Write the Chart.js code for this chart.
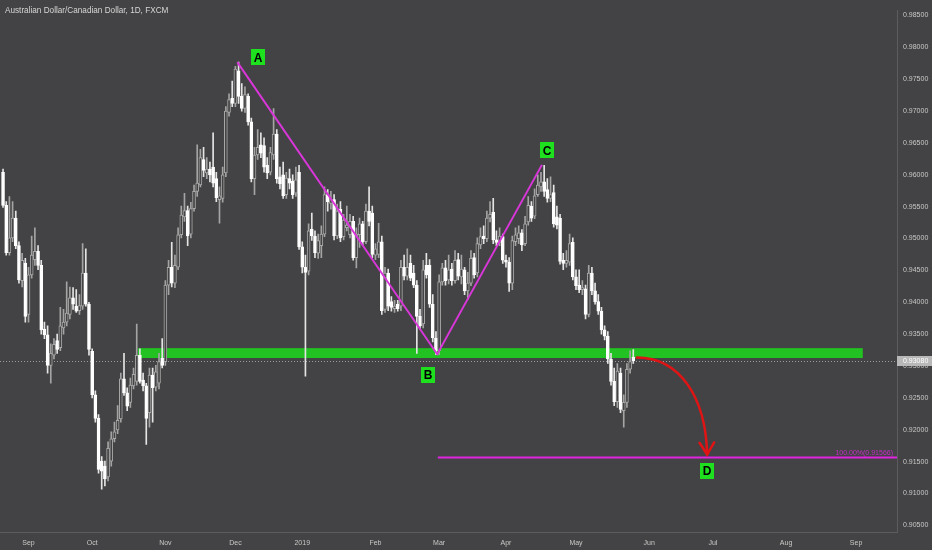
<!DOCTYPE html>
<html>
<head>
<meta charset="utf-8">
<title>AUDCAD 1D</title>
<script src="https://cdn.jsdelivr.net/npm/chart.js@4.4.1/dist/chart.umd.min.js"></script>
<style>
html, body { margin: 0; padding: 0; background: #434345; }
#wrap { width: 932px; height: 550px; }
</style>
</head>
<body>
<div id="wrap"><canvas id="chart" width="932" height="550"></canvas></div>
<script>
// daily candles, Aug 22 2018 .. May 24 2019 (index = trading day)
var opens = [
  0.9604,0.9552,0.9478,0.9501,0.9532,0.9489,0.9434,0.9461,0.9381,0.9443,
  0.9467,0.9480,0.9458,0.9358,0.9349,0.9301,0.9317,0.9340,0.9329,0.9360,
  0.9369,0.9381,0.9407,0.9394,0.9387,0.9394,0.9446,0.9397,0.9323,0.9255,
  0.9218,0.9151,0.9143,0.9126,0.9151,0.9186,0.9200,0.9217,0.9280,0.9258,
  0.9243,0.9269,0.9276,0.9317,0.9278,0.9269,0.9227,0.9286,0.9267,0.9273,
  0.9312,0.9307,0.9427,0.9455,0.9430,0.9455,0.9506,0.9534,0.9544,0.9507,
  0.9547,0.9574,0.9584,0.9624,0.9603,0.9609,0.9612,0.9594,0.9561,0.9563,
  0.9603,0.9698,0.9720,0.9712,0.9763,0.9723,0.9704,0.9723,0.9683,0.9594,
  0.9631,0.9647,0.9646,0.9615,0.9604,0.9631,0.9664,0.9597,0.9600,0.9569,
  0.9594,0.9590,0.9571,0.9604,0.9487,0.9455,0.9449,0.9515,0.9504,0.9477,
  0.9489,0.9507,0.9569,0.9555,0.9561,0.9504,0.9546,0.9503,0.9517,0.9506,
  0.9527,0.9470,0.9506,0.9523,0.9495,0.9543,0.9540,0.9474,0.9475,0.9495,
  0.9389,0.9446,0.9401,0.9390,0.9397,0.9394,0.9455,0.9441,0.9461,0.9446,
  0.9427,0.9378,0.9366,0.9458,0.9458,0.9397,0.9344,0.9324,0.9432,0.9454,
  0.9435,0.9452,0.9434,0.9467,0.9440,0.9451,0.9418,0.9430,0.9470,0.9446,
  0.9490,0.9504,0.9500,0.9532,0.9541,0.9498,0.9494,0.9503,0.9466,0.9463,
  0.9430,0.9495,0.9500,0.9509,0.9492,0.9526,0.9551,0.9535,0.9569,0.9581,
  0.9589,0.9577,0.9563,0.9572,0.9534,0.9532,0.9466,0.9461,0.9463,0.9494,
  0.9440,0.9427,0.9420,0.9421,0.9381,0.9446,0.9418,0.9401,0.9386,0.9357,
  0.9347,0.9311,0.9276,0.9244,0.9289,0.9230,0.9243,0.9295,0.9314
];
var highs = [
  0.9609,0.9558,0.9566,0.9558,0.9543,0.9495,0.9477,0.9469,0.9455,0.9504,
  0.9517,0.9489,0.9466,0.9369,0.9363,0.9335,0.9343,0.9350,0.9392,0.9389,
  0.9432,0.9424,0.9423,0.9420,0.9412,0.9492,0.9484,0.9400,0.9327,0.9261,
  0.9224,0.9158,0.9151,0.9181,0.9197,0.9212,0.9238,0.9289,0.9320,0.9266,
  0.9281,0.9297,0.9366,0.9327,0.9289,0.9273,0.9297,0.9297,0.9301,0.9320,
  0.9343,0.9434,0.9466,0.9494,0.9474,0.9517,0.9551,0.9571,0.9551,0.9557,
  0.9584,0.9647,0.9640,0.9643,0.9627,0.9620,0.9666,0.9604,0.9581,0.9612,
  0.9707,0.9727,0.9747,0.9770,0.9777,0.9743,0.9738,0.9727,0.9689,0.9643,
  0.9671,0.9666,0.9658,0.9627,0.9643,0.9704,0.9671,0.9612,0.9620,0.9604,
  0.9609,0.9600,0.9612,0.9615,0.9495,0.9474,0.9523,0.9540,0.9512,0.9507,
  0.9520,0.9581,0.9577,0.9574,0.9569,0.9554,0.9558,0.9538,0.9551,0.9538,
  0.9535,0.9517,0.9532,0.9527,0.9554,0.9581,0.9551,0.9492,0.9524,0.9504,
  0.9455,0.9452,0.9409,0.9403,0.9403,0.9466,0.9474,0.9484,0.9474,0.9458,
  0.9434,0.9389,0.9466,0.9477,0.9467,0.9412,0.9354,0.9443,0.9461,0.9466,
  0.9474,0.9461,0.9481,0.9477,0.9474,0.9455,0.9447,0.9481,0.9477,0.9501,
  0.9517,0.9520,0.9543,0.9558,0.9563,0.9512,0.9517,0.9507,0.9474,0.9470,
  0.9504,0.9517,0.9520,0.9514,0.9535,0.9566,0.9558,0.9578,0.9600,0.9604,
  0.9615,0.9594,0.9597,0.9584,0.9551,0.9538,0.9477,0.9481,0.9507,0.9501,
  0.9451,0.9451,0.9434,0.9427,0.9458,0.9455,0.9430,0.9412,0.9392,0.9363,
  0.9354,0.9320,0.9297,0.9304,0.9297,0.9255,0.9304,0.9324,0.9326
];
var lows = [
  0.9549,0.9474,0.9474,0.9495,0.9484,0.9430,0.9424,0.9369,0.9369,0.9438,
  0.9458,0.9451,0.9350,0.9343,0.9289,0.9273,0.9311,0.9320,0.9324,0.9350,
  0.9363,0.9374,0.9389,0.9384,0.9381,0.9389,0.9394,0.9317,0.9250,0.9212,
  0.9132,0.9107,0.9112,0.9120,0.9143,0.9181,0.9194,0.9212,0.9254,0.9230,
  0.9235,0.9264,0.9270,0.9273,0.9261,0.9177,0.9204,0.9212,0.9261,0.9264,
  0.9297,0.9301,0.9412,0.9424,0.9423,0.9451,0.9501,0.9527,0.9489,0.9501,
  0.9543,0.9566,0.9581,0.9597,0.9594,0.9589,0.9581,0.9558,0.9524,0.9557,
  0.9597,0.9692,0.9707,0.9707,0.9712,0.9700,0.9698,0.9678,0.9589,0.9569,
  0.9624,0.9627,0.9604,0.9594,0.9600,0.9624,0.9587,0.9578,0.9563,0.9563,
  0.9578,0.9563,0.9566,0.9483,0.9446,0.9284,0.9443,0.9497,0.9470,0.9469,
  0.9470,0.9503,0.9543,0.9546,0.9498,0.9500,0.9495,0.9498,0.9512,0.9501,
  0.9466,0.9454,0.9486,0.9489,0.9492,0.9520,0.9470,0.9467,0.9470,0.9381,
  0.9384,0.9387,0.9386,0.9384,0.9386,0.9387,0.9435,0.9435,0.9434,0.9423,
  0.9320,0.9357,0.9360,0.9438,0.9392,0.9338,0.9318,0.9318,0.9427,0.9427,
  0.9429,0.9427,0.9430,0.9435,0.9429,0.9412,0.9404,0.9426,0.9438,0.9440,
  0.9484,0.9492,0.9495,0.9526,0.9492,0.9489,0.9489,0.9461,0.9455,0.9417,
  0.9420,0.9489,0.9492,0.9481,0.9489,0.9521,0.9527,0.9531,0.9566,0.9574,
  0.9566,0.9557,0.9558,0.9518,0.9515,0.9460,0.9451,0.9455,0.9458,0.9435,
  0.9420,0.9415,0.9412,0.9374,0.9377,0.9412,0.9397,0.9381,0.9350,0.9341,
  0.9304,0.9270,0.9238,0.9235,0.9227,0.9204,0.9235,0.9289,0.9304
];
var closes = [
  0.9552,0.9478,0.9501,0.9532,0.9489,0.9435,0.9466,0.9378,0.9443,0.9474,
  0.9480,0.9458,0.9357,0.9349,0.9301,0.9320,0.9334,0.9326,0.9363,0.9369,
  0.9383,0.9407,0.9397,0.9386,0.9395,0.9446,0.9397,0.9326,0.9255,0.9218,
  0.9138,0.9135,0.9123,0.9171,0.9186,0.9197,0.9215,0.9280,0.9258,0.9237,
  0.9270,0.9287,0.9317,0.9276,0.9269,0.9218,0.9286,0.9266,0.9291,0.9307,
  0.9301,0.9427,0.9455,0.9430,0.9458,0.9506,0.9537,0.9544,0.9504,0.9547,
  0.9574,0.9587,0.9627,0.9607,0.9609,0.9600,0.9587,0.9564,0.9567,0.9600,
  0.9700,0.9718,0.9712,0.9766,0.9723,0.9704,0.9726,0.9683,0.9594,0.9631,
  0.9643,0.9634,0.9612,0.9603,0.9635,0.9664,0.9594,0.9586,0.9567,0.9595,
  0.9587,0.9569,0.9592,0.9487,0.9455,0.9447,0.9512,0.9504,0.9478,0.9497,
  0.9507,0.9569,0.9558,0.9561,0.9504,0.9543,0.9501,0.9529,0.9521,0.9527,
  0.9470,0.9507,0.9523,0.9495,0.9543,0.9527,0.9475,0.9484,0.9495,0.9387,
  0.9446,0.9394,0.9392,0.9394,0.9390,0.9455,0.9441,0.9455,0.9438,0.9427,
  0.9378,0.9363,0.9451,0.9443,0.9397,0.9344,0.9324,0.9432,0.9454,0.9434,
  0.9451,0.9434,0.9466,0.9441,0.9452,0.9418,0.9430,0.9469,0.9443,0.9492,
  0.9503,0.9500,0.9532,0.9538,0.9498,0.9494,0.9504,0.9466,0.9463,0.9430,
  0.9497,0.9506,0.9509,0.9490,0.9523,0.9552,0.9532,0.9567,0.9584,0.9589,
  0.9574,0.9563,0.9569,0.9523,0.9521,0.9464,0.9461,0.9466,0.9492,0.9440,
  0.9426,0.9420,0.9423,0.9381,0.9446,0.9418,0.9401,0.9386,0.9357,0.9347,
  0.9311,0.9276,0.9244,0.9292,0.9232,0.9243,0.9295,0.9307,0.9308
];

var monthTicks = [8, 28, 51, 73, 94, 117, 137, 158, 180, 203, 223, 246, 268];
var monthLabels = ['Sep', 'Oct', 'Nov', 'Dec', '2019', 'Feb', 'Mar', 'Apr', 'May', 'Jun', 'Jul', 'Aug', 'Sep'];
var priceTicks = [0.905, 0.910, 0.915, 0.920, 0.925, 0.930, 0.935, 0.940, 0.945,
                  0.950, 0.955, 0.960, 0.965, 0.970, 0.975, 0.980, 0.985];
var lastPrice = 0.93080;

// drawings: ABC swing, support zone, 100% projection, arrow
var patternX = [73.6, 136.4, 169.3];
var patternY = [0.97767, 0.93186, 0.96156];
var zoneX = [42.4, 270.1];
var zoneY = [0.93126, 0.93281];
var targetX = 136.6;
var targetPrice = 0.91566;
var pointNames = ['A', 'B', 'C', 'D'];
var pointX = [80.1, 133.5, 170.9, 221.2];
var pointY = [0.97844, 0.92859, 0.96382, 0.91351];
var arrowX = [199.1, 212.7, 220.8, 221.2];
var arrowY = [0.93136, 0.93136, 0.92505, 0.91612];

var xMin = -0.955, xMax = 280.85;
var yMin = 0.90397, yMax = 0.98582;
var BG = '#434345';
var FONT = '"Liberation Sans", Arial, sans-serif';

var idx = closes.map(function (c, i) { return i; });
var isUp = idx.map(function (i) { return closes[i] >= opens[i]; });
var bodyFill = isUp.map(function (u) { return u ? BG : '#ffffff'; });
var bodyLine = isUp.map(function (u) { return u ? '#a9a9a9' : '#ffffff'; });
var wickColors = isUp.map(function (u) { return u ? '#a4a4a4' : '#e4e4e4'; });

var overlay = {
  id: 'overlay',
  beforeDraw: function (chart) {
    var c = chart.ctx;
    c.save();
    c.fillStyle = BG;
    c.fillRect(0, 0, chart.width, chart.height);
    c.restore();
  },
  beforeDatasetsDraw: function (chart) {
    var c = chart.ctx, xs = chart.scales.x, ys = chart.scales.y, a = chart.chartArea;
    c.save();
    var x1 = xs.getPixelForValue(zoneX[0]), x2 = xs.getPixelForValue(zoneX[1]);
    var y1 = ys.getPixelForValue(zoneY[1]), y2 = ys.getPixelForValue(zoneY[0]);
    c.fillStyle = '#22c222';
    c.fillRect(x1, y1, x2 - x1, y2 - y1);
    var py = Math.round(ys.getPixelForValue(lastPrice)) + 0.5;
    c.strokeStyle = '#9c9c9c';
    c.lineWidth = 1;
    c.setLineDash([1, 2]);
    c.beginPath();
    c.moveTo(a.left, py);
    c.lineTo(a.right, py);
    c.stroke();
    c.restore();
  },
  afterDatasetsDraw: function (chart) {
    var c = chart.ctx, xs = chart.scales.x, ys = chart.scales.y, a = chart.chartArea;
    c.save();
    // red curved arrow
    var p = arrowX.map(function (v, i) { return [xs.getPixelForValue(v), ys.getPixelForValue(arrowY[i])]; });
    c.strokeStyle = '#e01414';
    c.lineWidth = 2.5;
    c.lineCap = 'round';
    c.beginPath();
    c.moveTo(p[0][0], p[0][1]);
    c.bezierCurveTo(p[1][0], p[1][1], p[2][0], p[2][1], p[3][0], p[3][1]);
    c.stroke();
    var ang = Math.atan2(p[3][1] - p[2][1], p[3][0] - p[2][0]);
    c.beginPath();
    c.moveTo(p[3][0] - 14 * Math.cos(ang - 0.55), p[3][1] - 14 * Math.sin(ang - 0.55));
    c.lineTo(p[3][0], p[3][1]);
    c.lineTo(p[3][0] - 14 * Math.cos(ang + 0.55), p[3][1] - 14 * Math.sin(ang + 0.55));
    c.stroke();

    // projection label
    c.fillStyle = '#c62ec6';
    c.font = '7px ' + FONT;
    c.textAlign = 'right';
    c.textBaseline = 'bottom';
    c.fillText('100.00%(0.91566)', a.right - 4, ys.getPixelForValue(targetPrice) - 1);

    // point boxes
    c.font = 'bold 12px ' + FONT;
    c.textAlign = 'center';
    c.textBaseline = 'middle';
    pointNames.forEach(function (n, i) {
      var cx = xs.getPixelForValue(pointX[i]), cy = ys.getPixelForValue(pointY[i]);
      c.fillStyle = '#1fe01f';
      c.fillRect(Math.round(cx - 7), Math.round(cy - 8), 14, 16);
      c.fillStyle = '#000000';
      c.fillText(n, cx, cy + 1);
    });
    c.restore();
  },
  afterDraw: function (chart) {
    var c = chart.ctx, ys = chart.scales.y, a = chart.chartArea;
    c.save();
    c.fillStyle = '#d6d6d6';
    c.font = '8.2px ' + FONT;
    c.textAlign = 'left';
    c.textBaseline = 'middle';
    c.fillText('Australian Dollar/Canadian Dollar, 1D, FXCM', 5, 11);
    // last price tag on the axis
    var py = Math.round(ys.getPixelForValue(lastPrice));
    c.fillStyle = '#b8b8b8';
    c.fillRect(a.right, py - 5, chart.width - a.right, 10);
    c.fillStyle = '#ffffff';
    c.font = '7px ' + FONT;
    c.fillText(lastPrice.toFixed(5), a.right + 6, py + 0.5);
    c.restore();
  }
};

var ctx = document.getElementById('chart').getContext('2d');
var chart = new Chart(ctx, {
  type: 'bar',
  data: {
    datasets: [
      {
        type: 'line',
        label: 'ABC',
        data: patternX.map(function (v, i) { return { x: v, y: patternY[i] }; }),
        borderColor: '#d836d8',
        borderWidth: 2,
        pointRadius: 0,
        order: 0
      },
      {
        type: 'line',
        label: 'target',
        data: [{ x: targetX, y: targetPrice }, { x: xMax, y: targetPrice }],
        borderColor: '#e024e0',
        borderWidth: 2,
        pointRadius: 0,
        order: 0
      },
      {
        label: 'body',
        data: idx.map(function (i) { return { x: i, y: [opens[i], closes[i]] }; }),
        backgroundColor: bodyFill,
        borderColor: bodyLine,
        borderWidth: 1,
        borderSkipped: false,
        barThickness: 3,
        minBarLength: 1,
        grouped: false,
        order: 1
      },
      {
        label: 'wick',
        data: idx.map(function (i) { return { x: i, y: [lows[i], highs[i]] }; }),
        backgroundColor: wickColors,
        barThickness: 1,
        grouped: false,
        order: 2
      }
    ]
  },
  options: {
    responsive: false,
    animation: false,
    layout: { padding: 0 },
    plugins: { legend: { display: false }, tooltip: { enabled: false } },
    scales: {
      x: {
        type: 'linear',
        min: xMin,
        max: xMax,
        offset: false,
        grid: { display: false, drawTicks: false },
        border: { display: true, color: '#5c5c5e' },
        afterBuildTicks: function (s) { s.ticks = monthTicks.map(function (v) { return { value: v }; }); },
        afterFit: function (s) { s.height = 18; },
        ticks: {
          autoSkip: false,
          maxRotation: 0,
          padding: 7,
          color: '#c8c8c8',
          font: { family: FONT, size: 7 },
          callback: function (v) { var k = monthTicks.indexOf(v); return k < 0 ? '' : monthLabels[k]; }
        }
      },
      y: {
        position: 'right',
        min: yMin,
        max: yMax,
        beginAtZero: false,
        grid: { display: false, drawTicks: false },
        border: { display: true, color: '#5c5c5e' },
        afterBuildTicks: function (s) { s.ticks = priceTicks.map(function (v) { return { value: v }; }); },
        afterFit: function (s) { s.width = 35; },
        ticks: {
          padding: 6,
          color: '#c8c8c8',
          font: { family: FONT, size: 7 },
          callback: function (v) { return v.toFixed(5); }
        }
      }
    }
  },
  plugins: [overlay]
});
</script>
</body>
</html>
